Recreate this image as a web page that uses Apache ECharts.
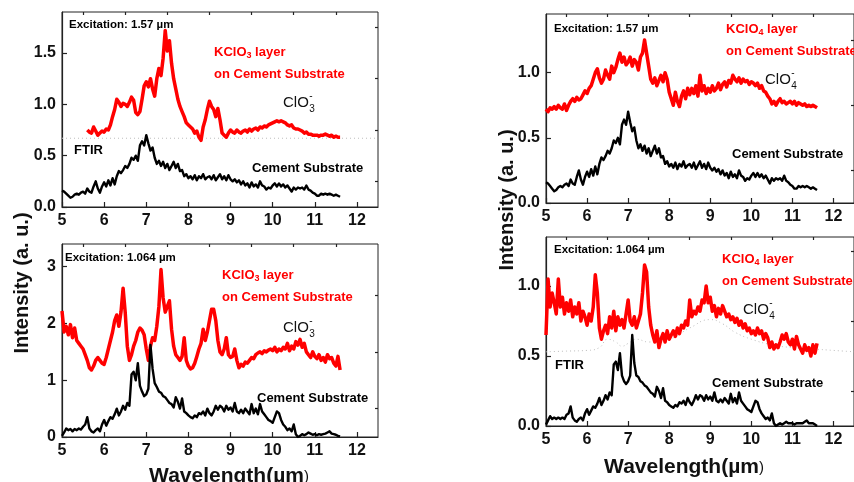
<!DOCTYPE html>
<html><head><meta charset="utf-8">
<script src="https://cdn.jsdelivr.net/npm/echarts@6/dist/echarts.min.js"></script>
<style>html,body{margin:0;padding:0;background:#fff}#c{width:854px;height:482px}</style>
</head><body><div id="c"></div>
<script>
// ---------- DATA ----------
const STEP = 0.05;
// Top-left: KClO3 layer, excitation 1.57 um (starts 5.6)
const kclo3_157_start = 5.6;
const kclo3_157 = [
0.75,0.73,0.72,0.78,0.74,0.70,0.72,0.74,0.73,0.76,0.75,
0.80,0.88,0.95,1.05,1.02,0.98,1.01,1.00,0.98,1.02,1.07,
1.04,0.92,0.90,0.93,1.05,1.18,1.22,1.17,1.25,1.15,1.08,
1.25,1.35,1.28,1.45,1.72,1.52,1.62,1.40,1.25,1.15,1.05,
0.98,0.93,0.88,0.82,0.80,0.78,0.76,0.72,0.74,0.68,0.65,
0.78,0.85,0.95,1.03,0.98,0.95,0.88,0.96,0.85,0.72,0.70,
0.68,0.72,0.75,0.73,0.72,0.75,0.73,0.72,0.74,0.75,0.73,
0.76,0.74,0.76,0.77,0.75,0.78,0.77,0.79,0.78,0.80,0.81,
0.82,0.83,0.84,0.83,0.84,0.83,0.82,0.80,0.79,0.80,0.77,
0.76,0.76,0.75,0.74,0.72,0.73,0.71,0.71,0.70,0.70,0.70,
0.69,0.70,0.70,0.71,0.70,0.69,0.70,0.68,0.69,0.68,0.68];
// Cement substrate, excitation 1.57 um (starts 5.0) - top panels
const cement_157_start = 5.0;
const cement_157 = [
0.16,0.15,0.13,0.11,0.09,0.10,0.12,0.13,0.12,0.14,0.15,
0.13,0.18,0.15,0.14,0.20,0.25,0.18,0.14,0.20,0.24,0.20,
0.26,0.21,0.28,0.22,0.30,0.35,0.33,0.36,0.40,0.38,0.42,
0.48,0.46,0.50,0.45,0.60,0.64,0.60,0.70,0.62,0.55,0.58,
0.48,0.42,0.45,0.40,0.44,0.38,0.42,0.36,0.40,0.44,0.38,
0.42,0.35,0.36,0.30,0.32,0.28,0.30,0.27,0.31,0.26,0.30,
0.28,0.32,0.27,0.29,0.30,0.27,0.31,0.26,0.29,0.32,0.27,
0.30,0.26,0.31,0.27,0.25,0.27,0.24,0.26,0.22,0.25,0.21,
0.23,0.19,0.24,0.20,0.22,0.19,0.25,0.21,0.20,0.17,0.19,
0.18,0.21,0.23,0.20,0.23,0.20,0.22,0.19,0.21,0.18,0.15,
0.19,0.17,0.19,0.18,0.19,0.17,0.21,0.17,0.16,0.14,0.13,
0.11,0.11,0.13,0.12,0.13,0.12,0.13,0.12,0.11,0.12,0.11,
0.10];
// Bottom-left: KClO3 layer, excitation 1.064 um
const kclo3_1064_start = 5.0;
const kclo3_1064 = [
2.22,1.85,1.95,1.80,1.98,1.75,1.92,1.70,1.65,1.60,1.55,
1.45,1.35,1.22,1.18,1.25,1.35,1.40,1.35,1.30,1.28,1.40,
1.55,1.70,1.85,2.05,2.15,1.95,2.20,2.62,2.20,1.60,1.35,
1.45,1.60,1.70,1.85,1.92,1.88,1.80,1.55,1.35,1.60,1.75,
1.70,1.95,2.30,2.95,2.45,2.20,2.30,2.40,1.90,1.60,1.45,
1.40,1.35,1.42,1.75,1.35,1.25,1.20,1.22,1.30,1.42,1.55,
1.65,1.90,1.70,1.85,2.05,2.25,2.25,2.05,1.70,1.50,1.45,
1.55,1.75,1.45,1.40,1.42,1.55,1.35,1.22,1.28,1.25,1.32,
1.30,1.35,1.40,1.38,1.45,1.48,1.50,1.47,1.52,1.50,1.53,
1.55,1.52,1.58,1.50,1.55,1.52,1.58,1.55,1.65,1.52,1.60,
1.55,1.68,1.62,1.72,1.58,1.65,1.50,1.45,1.40,1.50,1.42,
1.38,1.45,1.35,1.40,1.32,1.45,1.38,1.40,1.30,1.25,1.42,
1.18];
// Cement substrate, excitation 1.064 um (bottom-left scale)
const cement_1064a_start = 5.0;
const cement_1064a = [
0.02,0.08,0.15,0.12,0.14,0.10,0.14,0.12,0.15,0.13,0.18,
0.22,0.35,0.15,0.10,0.08,0.12,0.15,0.10,0.22,0.30,0.20,
0.28,0.35,0.32,0.40,0.50,0.38,0.45,0.55,0.48,0.60,0.55,
1.10,1.15,1.00,1.30,0.90,0.80,0.72,0.75,0.85,1.62,1.20,
0.95,0.88,0.80,0.78,0.72,0.70,0.65,0.60,0.58,0.52,0.70,
0.62,0.50,0.68,0.45,0.42,0.38,0.35,0.33,0.38,0.35,0.42,
0.40,0.45,0.38,0.50,0.42,0.38,0.45,0.55,0.48,0.55,0.52,
0.45,0.55,0.48,0.52,0.45,0.60,0.45,0.42,0.48,0.42,0.50,
0.45,0.40,0.58,0.42,0.50,0.40,0.58,0.45,0.40,0.35,0.30,
0.28,0.25,0.35,0.45,0.42,0.30,0.22,0.18,0.12,0.15,0.10,
0.22,0.05,0.00,0.02,0.05,0.03,0.05,0.08,0.06,0.04,0.05,
0.03,0.05,0.04,0.05,0.06,0.08,0.10,0.06,0.05,0.04,0.02,
0.01];
// Top-right: KClO4 layer, excitation 1.57 um
const kclo4_157_start = 5.0;
const kclo4_157 = [
0.72,0.70,0.73,0.72,0.74,0.72,0.75,0.73,0.72,0.76,0.71,
0.75,0.78,0.80,0.78,0.81,0.79,0.80,0.83,0.86,0.84,0.88,
0.90,0.95,1.00,1.03,0.96,0.92,0.95,1.02,0.98,0.95,1.05,
1.00,1.04,1.10,1.15,1.08,1.12,1.06,1.08,1.12,1.05,1.10,
1.08,1.02,1.12,1.15,1.25,1.15,1.05,0.95,0.92,0.96,0.90,
0.94,0.98,0.93,1.00,0.95,0.85,0.80,0.75,0.85,0.78,0.74,
0.82,0.86,0.80,0.88,0.83,0.88,0.84,0.90,0.82,0.98,0.86,
0.90,0.84,0.88,0.85,0.90,0.86,0.88,0.92,0.87,0.91,0.93,
0.89,0.94,0.92,0.98,0.95,0.93,0.96,0.92,0.95,0.93,0.94,
0.91,0.93,0.92,0.90,0.92,0.88,0.90,0.86,0.85,0.82,0.80,
0.76,0.78,0.75,0.78,0.80,0.77,0.78,0.76,0.77,0.78,0.76,
0.78,0.75,0.77,0.76,0.75,0.76,0.74,0.75,0.74,0.75,0.74,
0.73];
// Bottom-right: KClO4 layer, excitation 1.064 um
const kclo4_1064_start = 5.0;
const kclo4_1064 = [
0.65,1.05,0.85,0.95,0.88,0.80,1.05,0.85,0.92,0.80,0.88,
0.82,0.90,0.78,0.85,0.80,0.88,0.75,0.82,0.78,0.72,0.80,
0.75,0.85,1.08,0.95,0.70,0.62,0.68,0.72,0.66,0.78,0.70,
0.82,0.68,0.78,0.72,0.76,0.70,0.80,0.90,0.75,0.72,0.78,
0.70,0.75,0.80,0.95,1.15,1.10,0.85,0.72,0.65,0.60,0.68,
0.56,0.62,0.66,0.60,0.68,0.62,0.65,0.68,0.64,0.70,0.66,
0.72,0.70,0.75,0.72,0.90,0.78,0.82,0.80,0.85,0.82,0.90,
0.88,1.00,0.88,0.92,0.82,0.86,0.78,0.84,0.80,0.86,0.82,
0.78,0.80,0.76,0.78,0.74,0.77,0.72,0.75,0.70,0.73,0.68,
0.70,0.66,0.68,0.65,0.70,0.66,0.68,0.62,0.66,0.63,0.56,
0.60,0.55,0.58,0.56,0.60,0.65,0.62,0.66,0.60,0.58,0.62,
0.55,0.64,0.58,0.55,0.52,0.58,0.54,0.56,0.50,0.58,0.52,
0.59];
// Cement substrate, excitation 1.064 um (bottom-right scale)
const cement_1064b_start = 5.0;
const cement_1064b = [
0.01,0.04,0.07,0.05,0.06,0.05,0.06,0.05,0.06,0.05,0.08,
0.09,0.14,0.06,0.04,0.03,0.05,0.06,0.04,0.09,0.12,0.08,
0.11,0.14,0.13,0.16,0.20,0.15,0.18,0.22,0.19,0.24,0.22,
0.44,0.46,0.40,0.52,0.36,0.32,0.30,0.32,0.36,0.65,0.45,
0.36,0.35,0.32,0.31,0.29,0.28,0.26,0.24,0.23,0.21,0.28,
0.25,0.20,0.27,0.18,0.17,0.15,0.14,0.13,0.15,0.14,0.17,
0.16,0.18,0.15,0.20,0.17,0.15,0.18,0.22,0.19,0.22,0.21,
0.18,0.22,0.19,0.21,0.18,0.24,0.18,0.17,0.19,0.17,0.20,
0.18,0.16,0.23,0.17,0.20,0.16,0.24,0.18,0.16,0.14,0.12,
0.11,0.10,0.14,0.18,0.17,0.12,0.09,0.07,0.05,0.06,0.04,
0.09,0.02,0.00,0.01,0.02,0.01,0.02,0.03,0.02,0.02,0.02,
0.01,0.02,0.02,0.02,0.02,0.03,0.04,0.02,0.02,0.02,0.01,
0.00];
// FTIR reference (dotted grey)
const ftirTL_x = [5.0, 12.5];
const ftirTL_y = [0.67, 0.67];
const ftirBR_x = [5.0,5.5,6.0,6.3,6.5,6.7,6.85,7.0,7.2,7.5,8.0,8.5,9.0,9.3,9.6,10.0,10.5,11.0,11.5,12.0,12.5];
const ftirBR_y = [0.53,0.535,0.54,0.56,0.62,0.60,0.57,0.59,0.62,0.60,0.62,0.70,0.76,0.73,0.67,0.62,0.58,0.56,0.55,0.54,0.53];
// Axis ticks
const xTicks = [5,6,7,8,9,10,11,12];
const xMinor = [5.5,6.5,7.5,8.5,9.5,10.5,11.5];
const yTicksTL = [0,0.5,1.0,1.5], yMinorTL = [0.25,0.75,1.25,1.75];
const yTicksBL = [0,1,2,3], yMinorBL = [0.5,1.5,2.5];
const yTicksR = [0,0.5,1.0], yMinorR = [0.25,0.75,1.25];

// ---------- BUILD ----------
function pairs(start, ys){ return ys.map((v,i)=>[+(start+i*STEP).toFixed(2), v]); }
function zip(xs, ys){ return xs.map((x,i)=>[x, ys[i]]); }
const FONT = '"Liberation Sans", Arial, Helvetica, sans-serif';
const AX = '#222';

const grids = [
  {left:62, top:12, width:316, height:195},
  {left:62, top:244, width:316, height:193},
  {left:546, top:14, width:310, height:189},
  {left:546, top:237, width:310, height:189}
].map(g=>Object.assign({show:true, borderColor:AX, borderWidth:1, backgroundColor:'transparent'}, g));

const yCfg = [
  {max:1.9, ticks:yTicksTL, minor:yMinorTL, dec:1},
  {max:3.4, ticks:yTicksBL, minor:yMinorBL, dec:0},
  {max:1.45, ticks:yTicksR, minor:yMinorR, dec:1},
  {max:1.35, ticks:yTicksR, minor:yMinorR, dec:1}
];

const xAxis = [], yAxis = [];
for (let i=0;i<4;i++){
  xAxis.push({type:'value', gridIndex:i, min:5, max:12.5, interval:1,
    axisLine:{show:true, onZero:false, lineStyle:{color:AX, width:1.2}},
    axisTick:{show:true, inside:true, length:5, customValues:xTicks, lineStyle:{color:AX, width:1.2}},
    axisLabel:{show:true, customValues:xTicks, margin:6, color:'#111', fontFamily:FONT, fontWeight:'bold', fontSize:16},
    splitLine:{show:false}});
  xAxis.push({type:'value', gridIndex:i, min:5, max:12.5, interval:1,
    axisLine:{show:false, onZero:false},
    axisTick:{show:true, inside:true, length:3, customValues:xMinor, lineStyle:{color:AX, width:1.2}},
    axisLabel:{show:false}, splitLine:{show:false}});
  const c = yCfg[i];
  yAxis.push({type:'value', gridIndex:i, min:0, max:c.max, interval:0.5,
    axisLine:{show:true, onZero:false, lineStyle:{color:AX, width:1.2}},
    axisTick:{show:true, inside:true, length:5, customValues:c.ticks, lineStyle:{color:AX, width:1.2}},
    axisLabel:{show:true, customValues:c.ticks, margin:6, color:'#111', fontFamily:FONT, fontWeight:'bold', fontSize:16,
      formatter:v=>Number(v).toFixed(c.dec)},
    splitLine:{show:false}});
  yAxis.push({type:'value', gridIndex:i, min:0, max:c.max, interval:0.5,
    axisLine:{show:false, onZero:false},
    axisTick:{show:true, inside:true, length:3, customValues:c.minor, lineStyle:{color:AX, width:1.2}},
    axisLabel:{show:false}, splitLine:{show:false}});
}

function line(grid, data, color, width, extra){
  return Object.assign({type:'line', xAxisIndex:grid*2, yAxisIndex:grid*2, data, showSymbol:false, symbol:'none',
    lineStyle:{color, width, join:'round'}, silent:true, z:3}, extra||{});
}
const RED = '#ff0000';
const RW = 3.5, BW = 2.4;
const series = [
  line(0, zip(ftirTL_x, ftirTL_y), '#bdbdbd', 1, {lineStyle:{color:'#bdbdbd', width:1, type:[1,3]}, z:1}),
  line(0, pairs(kclo3_157_start, kclo3_157), RED, RW),
  line(0, pairs(cement_157_start, cement_157), '#000', BW),
  line(1, pairs(kclo3_1064_start, kclo3_1064), RED, RW),
  line(1, pairs(cement_1064a_start, cement_1064a), '#000', BW),
  line(2, pairs(kclo4_157_start, kclo4_157), RED, RW),
  line(2, pairs(cement_157_start, cement_157), '#000', BW),
  line(3, zip(ftirBR_x, ftirBR_y), '#bdbdbd', 1, {smooth:true, lineStyle:{color:'#bdbdbd', width:1, type:[1,3]}, z:1}),
  line(3, pairs(kclo4_1064_start, kclo4_1064), RED, RW),
  line(3, pairs(cement_1064b_start, cement_1064b), '#000', BW)
];

// ---------- TEXT ----------
const cv = document.createElement('canvas').getContext('2d');
function tw(t, f){ cv.font = f; return cv.measureText(t).width; }
function T(x, y, text, font, fill, extra){
  return Object.assign({type:'text', x, y, z:100, silent:true,
    style:{text, font, fill:fill||'#000', align:'left', verticalAlign:'middle'}}, extra||{});
}
const els = [];
function excitation(x, y, t){ els.push(T(x, y, t, 'bold 11.5px '+FONT, '#000')); }
function layer(x, y, n){
  const f = 'bold 13px '+FONT, fs = 'bold 9px '+FONT;
  const w1 = tw('KClO', f);
  els.push(T(x, y, 'KClO', f, RED));
  els.push(T(x+w1, y+4, n, fs, RED));
  els.push(T(x+w1+tw(n, fs), y, ' layer', f, RED));
  els.push(T(x, y+22.5, 'on Cement Substrate', f, RED));
}
function ion(x, y, n){
  const f = '15px '+FONT, fs = '10px '+FONT;
  const w1 = tw('ClO', f);
  els.push(T(x, y, 'ClO', f, '#111'));
  els.push(T(x+w1+0.5, y-7, '-', fs, '#111'));
  els.push(T(x+w1+0.5, y+6, n, fs, '#111'));
}
function bold13(x, y, t){ els.push(T(x, y, t, 'bold 13px '+FONT, '#000')); }

excitation(69, 25, 'Excitation: 1.57 µm');
layer(214, 52, '3');
ion(283, 103, '3');
bold13(74, 150, 'FTIR');
bold13(252, 168, 'Cement Substrate');

excitation(65, 257.5, 'Excitation: 1.064 µm');
layer(222, 275, '3');
ion(283, 328, '3');
bold13(257, 398, 'Cement Substrate');

excitation(554, 29, 'Excitation: 1.57 µm');
layer(726, 29, '4');
ion(765, 80, '4');
bold13(732, 154, 'Cement Substrate');

excitation(554, 250, 'Excitation: 1.064 µm');
layer(722, 259, '4');
ion(743, 310, '4');
bold13(555, 365, 'FTIR');
bold13(712, 383, 'Cement Substrate');

// Axis titles
const TF = 'bold 20px '+FONT;
els.push({type:'text', x:22, y:283, rotation:Math.PI/2, z:100, silent:true,
  style:{text:'Intensity (a. u.)', font:TF, fill:'#111', align:'center', verticalAlign:'middle'}});
els.push({type:'text', x:507, y:200, rotation:Math.PI/2, z:100, silent:true,
  style:{text:'Intensity (a. u.)', font:TF, fill:'#111', align:'center', verticalAlign:'middle'}});
function xTitle(cx, cy){
  const f = 'bold 21px '+FONT, f2 = '15px '+FONT;
  const a = 'Wavelength(µm', w = tw(a, f) + tw(')', f2);
  els.push(T(cx - w/2, cy, a, f, '#111'));
  els.push(T(cx - w/2 + tw(a, f), cy+1, ')', f2, '#111'));
}
xTitle(229, 476);
xTitle(684, 467);

const chart = echarts.init(document.getElementById('c'), null, {renderer:'canvas'});
chart.setOption({animation:false, backgroundColor:'#fff', grid:grids, xAxis, yAxis, series, graphic:{elements:els}});
</script>
</body></html>
